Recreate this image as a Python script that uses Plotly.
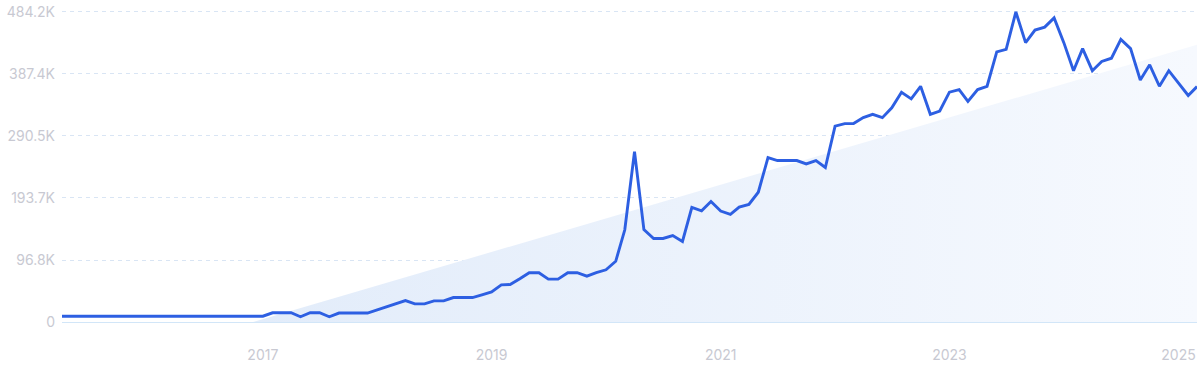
import pandas as pd
import plotly.graph_objects as go

# Monthly search volume (thousands), Apr 2015 .. Mar 2025
start_month = "2015-04-01"
volume_k = [
    9, 9, 9, 9, 9, 9, 9, 9, 9, 9, 9, 9, 9, 9, 9, 9, 9, 9, 9, 9, 9, 9,
    14.4, 14.4, 14.4, 8.2, 14.4, 14.4, 8.2, 14, 14, 14, 14,
    19, 24, 29, 33.5, 28.3, 28.3, 33, 33, 38.2, 38.2, 38.2, 42.5, 47,
    58, 58.5, 67.5, 77, 77, 67, 67, 77, 77, 71.6, 77, 81.5, 94.8, 144,
    266, 144.3, 130.4, 130.4, 135, 125.8, 179, 173.7, 188.3, 173.3,
    168, 179.5, 183.6, 202.7, 256.8, 252.2, 252.2, 252.2, 247, 252.2,
    241.3, 305.8, 309.9, 309.9, 319.2, 324.4, 319.2, 334.6, 358.9, 348.5,
    368.2, 324.4, 329.5, 358.9, 363, 344.5, 363, 368.2, 421.9, 425.9,
    484.2, 436.3, 455.9, 460.5, 474.9, 436.3, 392.5, 427, 392.5, 406.9,
    412, 441.4, 427, 378, 401.7, 368.2, 392.5, 373, 353.8, 367.7,
]
months = pd.date_range(start_month, periods=len(volume_k), freq="MS")

# Trend area end points
trend_dates = ["2016-12-01", "2025-03-01"]
trend_k = [0, 433]

# Axis ticks
y_tickvals = [0, 96.84, 193.68, 290.52, 387.36, 484.2]
y_ticktext = ["0", "96.8K", "193.7K", "290.5K", "387.4K", "484.2K"]
x_tickvals = ["2017-01-01", "2019-01-01", "2021-01-01", "2023-01-01", "2025-01-01"]
x_ticktext = ["2017", "2019", "2021", "2023", "2025"]

fig = go.Figure()
fig.add_trace(go.Scatter(
    x=trend_dates, y=trend_k, mode="lines", line=dict(width=0),
    fill="tozeroy",
    fillgradient=dict(type="horizontal",
                      colorscale=[[0, "rgb(226,236,250)"], [1, "rgb(246,249,254)"]]),
    hoverinfo="skip",
))
fig.add_trace(go.Scatter(
    x=months, y=volume_k, mode="lines",
    line=dict(color="#2d5fe2", width=2.9),
))

font_family = "Inter, Roboto, sans-serif"
fig.update_layout(
    width=1200, height=371,
    margin=dict(l=62, r=3, t=7, b=49),
    paper_bgcolor="white", plot_bgcolor="white",
    showlegend=False,
    font=dict(family=font_family, size=14, color="#c8c9d2"),
)
fig.update_xaxes(
    range=[months[0], months[-1]],
    tickvals=x_tickvals, ticktext=x_ticktext,
    showgrid=False, zeroline=False,
    showline=True, linecolor="#d2e6f8", linewidth=1,
    ticks="", ticklabelstandoff=20,
)
fig.update_yaxes(
    range=[0, 487.3],
    tickvals=y_tickvals, ticktext=y_ticktext,
    showgrid=True, gridcolor="#d9e5f4", griddash="4px,4px", gridwidth=1,
    zeroline=False, showline=False,
    ticks="", ticklabelstandoff=6, ticklabeloverflow="allow",
)
fig.write_html(
    "out.html",
    config={"displayModeBar": False},
    post_script="document.body.style.margin='0';document.body.style.overflow='hidden';",
)
